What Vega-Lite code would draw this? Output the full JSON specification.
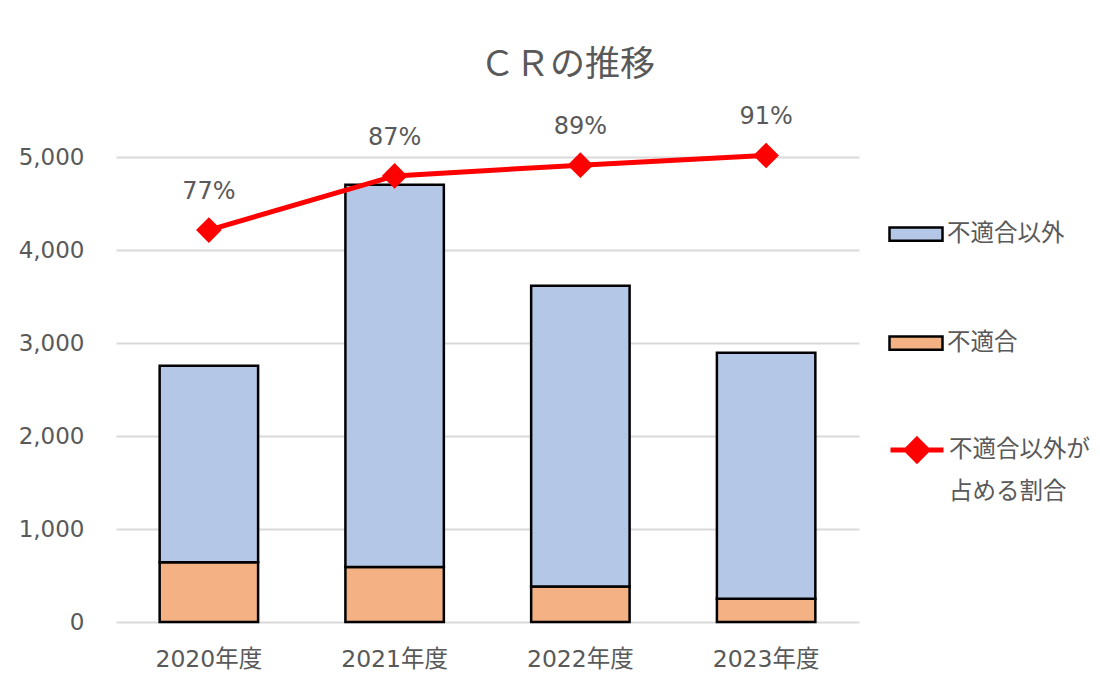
{
  "$schema": "https://vega.github.io/schema/vega-lite/v6.json",
  "width": 743,
  "height": 511,
  "autosize": "none",
  "padding": {"left": 116, "top": 111, "right": 241, "bottom": 55},
  "background": "white",
  "config": {
    "font": "DejaVu Sans, Noto Sans CJK JP",
    "view": {"stroke": null}
  },
  "title": {
    "text": "ＣＲの推移",
    "font": "Noto Sans CJK JP",
    "fontSize": 35,
    "fontWeight": "normal",
    "color": "#595959",
    "anchor": "middle",
    "frame": "group",
    "dx": 80,
    "offset": 22
  },
  "datasets": {
    "bars": [
      {"年度": "2020年度", "系列": "不適合", "件数": 643},
      {"年度": "2020年度", "系列": "不適合以外", "件数": 2114},
      {"年度": "2021年度", "系列": "不適合", "件数": 592},
      {"年度": "2021年度", "系列": "不適合以外", "件数": 4114},
      {"年度": "2022年度", "系列": "不適合", "件数": 383},
      {"年度": "2022年度", "系列": "不適合以外", "件数": 3237},
      {"年度": "2023年度", "系列": "不適合", "件数": 251},
      {"年度": "2023年度", "系列": "不適合以外", "件数": 2646}
    ],
    "ratio": [
      {"年度": "2020年度", "割合": 0.767},
      {"年度": "2021年度", "割合": 0.873},
      {"年度": "2022年度", "割合": 0.894},
      {"年度": "2023年度", "割合": 0.913}
    ]
  },
  "layer": [
    {
      "data": {"name": "bars"},
      "mark": {"type": "bar", "stroke": "black", "strokeWidth": 2.5},
      "encoding": {
        "x": {
          "field": "年度", "type": "nominal", "sort": null,
          "scale": {"paddingInner": 0.47, "paddingOuter": 0.235},
          "axis": {"title": null, "labelAngle": 0, "labelFontSize": 23.5, "labelColor": "#595959", "labelPadding": 25, "ticks": false, "domain": false}
        },
        "y": {
          "field": "件数", "type": "quantitative", "stack": "zero",
          "scale": {"domain": [0, 5500]},
          "axis": {"title": null, "values": [0, 1000, 2000, 3000, 4000, 5000], "format": ",d", "labelFontSize": 23, "labelColor": "#595959", "labelPadding": 32, "ticks": false, "domain": false, "gridColor": "#d9d9d9", "gridWidth": 2}
        },
        "fill": {
          "field": "系列", "type": "nominal",
          "scale": {"domain": ["不適合以外", "不適合"], "range": ["#b4c7e7", "#f4b183"]},
          "legend": {
            "title": null, "orient": "none", "legendX": 772, "legendY": 95, "padding": 0,
            "symbolType": "M-1,-0.25H1V0.25H-1Z", "symbolSize": 2809,
            "symbolStrokeColor": "black", "symbolStrokeWidth": 2.5,
            "labelFont": "Noto Sans CJK JP", "labelFontSize": 23.5, "labelColor": "#595959",
            "labelOffset": 3, "rowPadding": 69
          }
        },
        "order": {"field": "系列", "sort": "ascending"}
      }
    },
    {
      "data": {"name": "ratio"},
      "mark": {"type": "line", "strokeWidth": 5, "color": "red", "point": {"shape": "diamond", "size": 520, "filled": true, "color": "red"}},
      "encoding": {
        "x": {"field": "年度", "type": "nominal", "sort": null},
        "y": {"field": "割合", "type": "quantitative", "scale": {"domain": [0, 1]}, "axis": null},
        "stroke": {
          "datum": "不適合以外が占める割合", "type": "nominal",
          "scale": {"range": ["red"]},
          "legend": {
            "title": null, "orient": "none", "legendX": 772, "legendY": 310, "padding": 0,
            "symbolType": "M-1,0H1M0,-0.4L0.4,0L0,0.4L-0.4,0Z", "symbolSize": 2809,
            "symbolStrokeWidth": 5, "symbolFillColor": "red", "symbolStrokeColor": "red",
            "labelFont": "Noto Sans CJK JP", "labelFontSize": 23.5, "labelColor": "#595959",
            "labelOffset": 3,
            "labelExpr": "['不適合以外が', '占める割合']",
            "encode": {
              "symbols": {"update": {"fill": {"value": "red"}, "stroke": {"value": "red"}}},
              "labels": {"update": {"lineHeight": {"value": 42}}}
            }
          }
        }
      }
    },
    {
      "data": {"name": "ratio"},
      "mark": {"type": "text", "dy": -38, "fontSize": 24, "color": "#595959"},
      "encoding": {
        "x": {"field": "年度", "type": "nominal", "sort": null},
        "y": {"field": "割合", "type": "quantitative", "scale": {"domain": [0, 1]}, "axis": null},
        "text": {"field": "割合", "type": "quantitative", "format": ".0%"}
      }
    }
  ],
  "resolve": {"scale": {"y": "independent"}}
}
